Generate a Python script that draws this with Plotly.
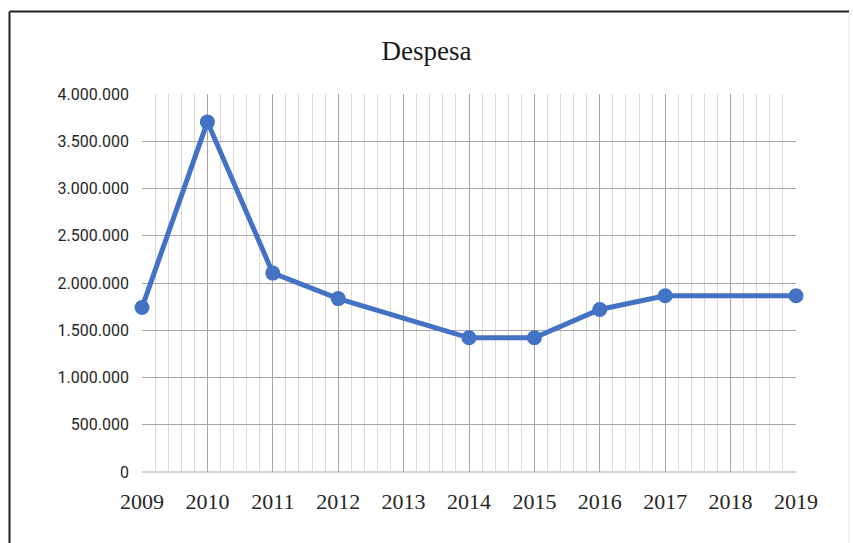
import plotly.graph_objects as go

years = [2009, 2010, 2011, 2012, 2014, 2015, 2016, 2017, 2019]
despesa = [1740000, 3705000, 2105000, 1835000, 1420000, 1420000, 1720000, 1865000, 1865000]
x_ticks = list(range(2009, 2020))
y_ticks = [0, 500000, 1000000, 1500000, 2000000, 2500000, 3000000, 3500000, 4000000]
y_labels = ["0", "500.000", "1.000.000", "1.500.000", "2.000.000", "2.500.000",
            "3.000.000", "3.500.000", "4.000.000"]

W, H = 853, 543
L, R, T, B = 142, 57, 94, 71
pw, ph = W - L - R, H - T - B

def px_x(p):
    return (p - L) / pw

def px_y(p):
    return (H - B - p) / ph

fig = go.Figure()
fig.add_trace(go.Scatter(
    x=years, y=despesa, mode="lines+markers",
    line=dict(color="#4472C4", width=5),
    marker=dict(color="#4472C4", size=15),
    cliponaxis=False, showlegend=False,
))

fig.update_layout(
    width=W, height=H,
    margin=dict(l=L, r=R, t=T, b=B),
    paper_bgcolor="white", plot_bgcolor="white",
    title=dict(text="Despesa", x=0.5, xanchor="center", y=1 - 51 / H, yanchor="middle",
               font=dict(family="Liberation Serif", size=27, color="#1a1a1a")),
    xaxis=dict(
        range=[2009, 2019], tickvals=x_ticks, ticktext=[str(v) for v in x_ticks],
        showgrid=True, gridcolor="#a6a6a6", gridwidth=1,
        minor=dict(dtick=0.2, tick0=2009, showgrid=True, gridcolor="#dadada", gridwidth=1),
        zeroline=False, showline=False, ticks="", ticklen=0,
        tickfont=dict(family="Liberation Serif", size=22, color="#262626"),
        ticklabelstandoff=14,
        fixedrange=True,
    ),
    yaxis=dict(
        range=[0, 4000000], tickvals=y_ticks, ticktext=y_labels,
        showgrid=True, gridcolor="#a6a6a6", gridwidth=1,
        zeroline=False, showline=False, ticks="", ticklen=0,
        tickfont=dict(family="Roboto", size=16, color="#262626"),
        ticklabelstandoff=12,
        fixedrange=True,
    ),
    shapes=[
        dict(type="line", xref="paper", yref="paper", x0=0, x1=1, y0=0, y1=0,
             line=dict(color="#a6a6a6", width=1), layer="below"),
        dict(type="line", xref="paper", yref="paper", x0=px_x(9.5), x1=px_x(849), y0=px_y(11.5), y1=px_y(11.5),
             line=dict(color="#222222", width=2)),
        dict(type="line", xref="paper", yref="paper", x0=px_x(9.5), x1=px_x(9.5), y0=px_y(11.5), y1=px_y(560),
             line=dict(color="#222222", width=2)),
        dict(type="line", xref="paper", yref="paper", x0=px_x(849), x1=px_x(849), y0=px_y(14), y1=px_y(560),
             line=dict(color="#e6e6e6", width=1)),
    ],
)

fig.write_html("out.html")
